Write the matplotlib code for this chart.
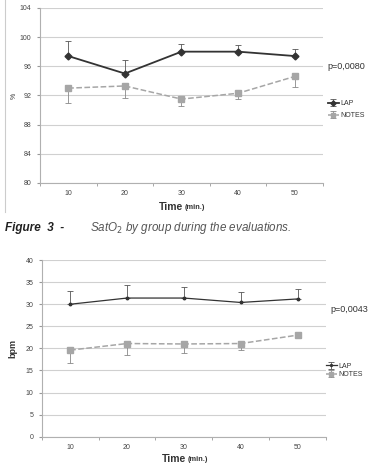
import matplotlib.pyplot as plt
import numpy as np

plt.rcParams['font.family'] = ['Liberation Sans', 'DejaVu Sans']

times = ['10', '20', '30', '40', '50']

# SatO2 (%)
sat_lap = [97.4, 95.0, 98.0, 98.0, 97.4]
sat_lap_err = [2.05, 1.8, 1.1, 0.9, 1.0]
sat_notes = [93.0, 93.3, 91.5, 92.3, 94.6]
sat_notes_err = [2.0, 1.7, 1.0, 0.8, 1.4]

# respiratory rate (bpm)
bpm_lap = [30.0, 31.4, 31.4, 30.4, 31.2]
bpm_lap_err = [3.1, 3.0, 2.5, 2.3, 2.2]
bpm_notes = [19.6, 21.1, 21.0, 21.1, 23.0]
bpm_notes_err = [2.8, 2.6, 2.1, 1.5, 0.7]

dark = '#333333'
grey = '#a6a6a6'
grid = '#d0d0d0'

fig = plt.figure(figsize=(3.73, 4.72), dpi=100)


def style(ax, ylim, yticks):
    x = np.arange(len(times))
    ax.set_xlim(-0.5, len(times) - 0.5)
    ax.set_ylim(*ylim)
    ax.set_yticks(yticks)
    ax.set_xticks(x)
    ax.set_xticklabels(times)
    ax.set_xticks(np.arange(-0.5, len(times)), minor=True)
    ax.tick_params(axis='x', which='major', length=0, labelsize=5, colors='#444444', pad=5)
    ax.tick_params(axis='x', which='minor', length=2, color='#999999', direction='out')
    ax.tick_params(axis='y', length=2, color='#999999', labelsize=5, colors='#444444', pad=4)
    ax.yaxis.grid(True, color=grid, lw=0.8)
    ax.set_axisbelow(True)
    for s in ['top', 'right']:
        ax.spines[s].set_visible(False)
    for s in ['left', 'bottom']:
        ax.spines[s].set_color('#b0b0b0')
        ax.spines[s].set_linewidth(0.8)
    return x


def time_label(xc, y):
    fig.text(xc, y, 'Time', fontsize=7.5, fontweight='bold', color='#333333', ha='right', va='center')
    fig.text(xc + 0.004, y - 0.001, '(min.)', fontsize=5.3, fontweight='bold', color='#333333',
             ha='left', va='center')


# ---- top chart: SatO2
ax1 = fig.add_axes([0.107, 0.6123, 0.759, 0.371])
x = style(ax1, (80, 104), np.arange(80, 105, 4))
ax1.errorbar(x, sat_lap, yerr=[np.zeros(5), sat_lap_err], color=dark, lw=1.3,
             marker='D', ms=3.5, elinewidth=0.6, capsize=2, capthick=0.6, ecolor='#555555', label='LAP')
ax1.errorbar(x, sat_notes, yerr=[sat_notes_err, np.zeros(5)], color=grey, lw=1.1, ls='--',
             marker='s', ms=3.8, elinewidth=0.6, capsize=2, capthick=0.6, ecolor='#888888', label='NOTES')
ax1.set_ylabel('%', fontsize=5, color='#333333')
ax1.yaxis.set_label_coords(-0.079, 0.5)
ax1.text(4.58, 96, 'p=0,0080', fontsize=6.5, color='#333333', va='center', ha='left')
ax1.legend(loc='upper left', bbox_to_anchor=(1.007, 0.49), frameon=False, fontsize=5,
           handlelength=1.6, handletextpad=0.2, labelspacing=0.75, borderaxespad=0,
           markerscale=0.75, labelcolor='#333333')
time_label(0.492, 0.561)

# left border line of the first chart
fig.add_artist(plt.Line2D([0.013, 0.013], [0.55, 1.0], color='#cccccc', lw=0.8))

# caption
fig.text(0.013, 0.518, 'Figure  3  -', fontsize=8.5, fontweight='bold', style='italic', color='#222222',
         va='center')
fig.text(0.24, 0.518, r'SatO$_2$ by group during the evaluations.', fontsize=8.4, style='italic',
         color='#555555', va='center')

# ---- bottom chart: bpm
ax2 = fig.add_axes([0.112, 0.0748, 0.762, 0.3742])
x = style(ax2, (0, 40), np.arange(0, 41, 5))
ax2.errorbar(x, bpm_lap, yerr=[np.zeros(5), bpm_lap_err], color=dark, lw=0.9,
             marker='o', ms=1.8, elinewidth=0.6, capsize=2, capthick=0.6, ecolor='#555555', label='LAP')
ax2.errorbar(x, bpm_notes, yerr=[bpm_notes_err, np.zeros(5)], color=grey, lw=1.1, ls='--',
             marker='s', ms=3.8, elinewidth=0.6, capsize=2, capthick=0.6, ecolor='#888888', label='NOTES')
ax2.set_ylabel('bpm', fontsize=6.5, fontweight='bold', color='#333333')
ax2.yaxis.set_label_coords(-0.087, 0.5)
ax2.text(4.58, 28.8, 'p=0,0043', fontsize=6.5, color='#333333', va='center', ha='left')
ax2.legend(loc='upper left', bbox_to_anchor=(0.99, 0.435), frameon=False, fontsize=5,
           handlelength=1.6, handletextpad=0.2, labelspacing=0.2, borderaxespad=0,
           markerscale=0.75, labelcolor='#333333')
time_label(0.498, 0.027)

fig.savefig('out.png', dpi=100)
